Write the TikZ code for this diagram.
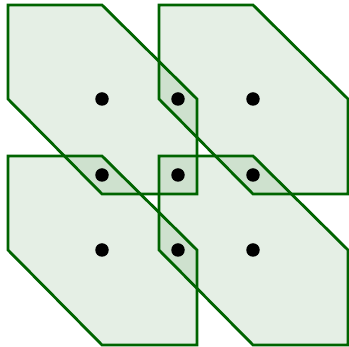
\documentclass[tikz,border=0pt]{standalone}
\begin{document}
\begin{tikzpicture}[x=1pt,y=-1pt,
  hexfill/.style={fill={rgb,255:red,0;green,100;blue,0},fill opacity=0.1},
  hexline/.style={draw={rgb,255:red,0;green,100;blue,0},line width=2.8pt,line join=miter},
  pt/.style={circle,fill=black,inner sep=0pt,minimum size=13.5pt}]
\useasboundingbox (0,0) rectangle (349,347);
\foreach \dx/\dy/\n in {0/0/a,151/0/b,0/151/c,151/151/d}{
  \fill[hexfill] (8+\dx,5+\dy) -- (102+\dx,5+\dy) -- (197+\dx,99+\dy) -- (197+\dx,194+\dy) -- (102+\dx,194+\dy) -- (8+\dx,99+\dy) -- cycle;
}
\foreach \dx/\dy/\n in {0/0/a,151/0/b,0/151/c,151/151/d}{
  \draw[hexline] (8+\dx,5+\dy) -- (102+\dx,5+\dy) -- (197+\dx,99+\dy) -- (197+\dx,194+\dy) -- (102+\dx,194+\dy) -- (8+\dx,99+\dy) -- cycle;
}
\node[pt] (c1) at (102,99) {};
\node[pt] (c2) at (253,99) {};
\node[pt] (c3) at (102,250) {};
\node[pt] (c4) at (253,250) {};
\node[pt] (o1) at (178,99) {};
\node[pt] (o2) at (102,175) {};
\node[pt] (o3) at (178,175) {};
\node[pt] (o4) at (253,175) {};
\node[pt] (o5) at (178,250) {};
\end{tikzpicture}
\end{document}
